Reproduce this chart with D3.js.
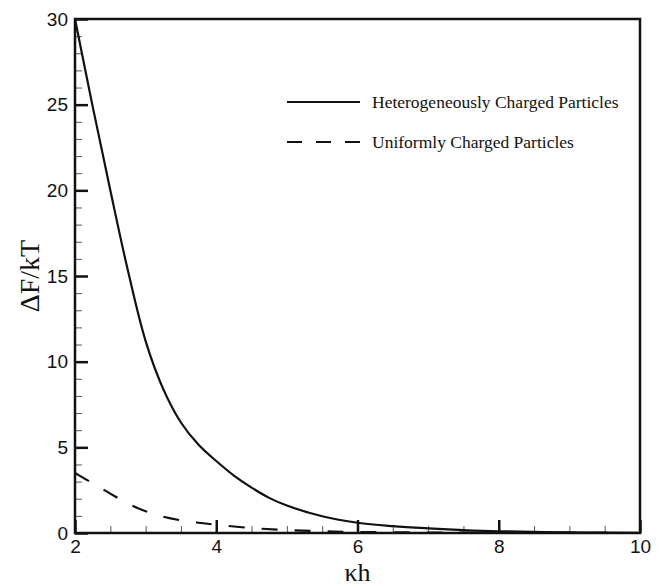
<!DOCTYPE html>
<html>
<head>
<meta charset="utf-8">
<script src="https://cdn.jsdelivr.net/npm/d3@7"></script>
<style>
  body { margin: 0; background: #fff; }
  svg { display: block; }
</style>
</head>
<body>
<div id="chart"></div>
<script>
// kh values and free energy (Delta F / kT)
const khHetero = [2.0, 2.25, 2.5, 2.75, 3.0, 3.25, 3.5, 3.75, 4.0, 4.25, 4.5, 4.75, 5.0, 5.5, 6.0, 6.5, 7.0, 7.5, 8.0, 9.0, 10.0];
const dfHetero = [30, 24.9, 20.0, 15.3, 11.2, 8.4, 6.45, 5.15, 4.2, 3.35, 2.65, 2.05, 1.6, 0.98, 0.6, 0.4, 0.27, 0.17, 0.1, 0.04, 0.01];

const khUniform = [2.0, 2.25, 2.5, 2.75, 3.0, 3.25, 3.5, 3.75, 4.0, 4.5, 5.0, 5.5, 6.0, 7.0, 8.0, 9.0, 10.0];
const dfUniform = [3.5, 2.9, 2.3, 1.72, 1.27, 0.95, 0.74, 0.6, 0.48, 0.29, 0.17, 0.1, 0.06, 0.03, 0.01, 0.005, 0.0];

const xMajorTicks = [2, 4, 6, 8, 10];
const yMajorTicks = [0, 5, 10, 15, 20, 25, 30];

const legendLabels = ["Heterogeneously Charged Particles", "Uniformly Charged Particles"];

const width = 666, height = 588;
const margin = {left: 75, right: 26, top: 19, bottom: 55};

const svg = d3.select("#chart").append("svg")
    .attr("width", width)
    .attr("height", height);

const xScale = d3.scaleLinear()
    .domain([2, 10])
    .range([margin.left, width - margin.right]);

const yScale = d3.scaleLinear()
    .domain([0, 30])
    .range([height - margin.bottom, margin.top]);

// minor ticks
svg.append("g")
    .attr("transform", "translate(0," + yScale(0) + ")")
    .call(d3.axisBottom(xScale).tickValues(d3.range(2, 10.01, 0.5)).tickSize(-7).tickFormat(""))
    .call(g => g.select(".domain").remove())
    .call(g => g.selectAll("line").attr("stroke", "#555").attr("stroke-width", 1));

svg.append("g")
    .attr("transform", "translate(" + xScale(2) + ",0)")
    .call(d3.axisLeft(yScale).tickValues(d3.range(0, 30.01, 1)).tickSize(-7).tickFormat(""))
    .call(g => g.select(".domain").remove())
    .call(g => g.selectAll("line").attr("stroke", "#555").attr("stroke-width", 1));

// major ticks and labels
svg.append("g")
    .attr("transform", "translate(0," + yScale(0) + ")")
    .call(d3.axisBottom(xScale).tickValues(xMajorTicks).tickSize(-13).tickPadding(7).tickFormat(d3.format("d")))
    .call(g => g.select(".domain").remove())
    .call(g => g.selectAll("line").attr("stroke", "#111").attr("stroke-width", 2.5))
    .call(g => g.selectAll("text")
        .attr("font-family", "'Liberation Sans', Arial, sans-serif")
        .attr("font-size", 19)
        .attr("fill", "#111"));

svg.append("g")
    .attr("transform", "translate(" + xScale(2) + ",0)")
    .call(d3.axisLeft(yScale).tickValues(yMajorTicks).tickSize(-13).tickPadding(7).tickFormat(d3.format("d")))
    .call(g => g.select(".domain").remove())
    .call(g => g.selectAll("line").attr("stroke", "#111").attr("stroke-width", 2.5))
    .call(g => g.selectAll("text")
        .attr("font-family", "'Liberation Sans', Arial, sans-serif")
        .attr("font-size", 19)
        .attr("fill", "#111"));

// frame
svg.append("rect")
    .attr("x", xScale(2))
    .attr("y", yScale(30))
    .attr("width", xScale(10) - xScale(2))
    .attr("height", yScale(0) - yScale(30))
    .attr("fill", "none")
    .attr("stroke", "#111")
    .attr("stroke-width", 2.5);

// curves
const line = d3.line()
    .curve(d3.curveCatmullRom.alpha(0.5))
    .x(d => xScale(d[0]))
    .y(d => yScale(d[1]));

svg.append("path")
    .datum(d3.zip(khHetero, dfHetero))
    .attr("d", line)
    .attr("fill", "none")
    .attr("stroke", "#111")
    .attr("stroke-width", 2.2);

svg.append("path")
    .datum(d3.zip(khUniform, dfUniform))
    .attr("d", line)
    .attr("fill", "none")
    .attr("stroke", "#111")
    .attr("stroke-width", 2.2)
    .attr("stroke-dasharray", "16,17");

// legend
const legend = svg.append("g");
legendLabels.forEach((label, i) => {
    let y = 102 + i * 40;
    legend.append("line")
        .attr("x1", 287).attr("x2", 360)
        .attr("y1", y).attr("y2", y)
        .attr("stroke", "#111")
        .attr("stroke-width", 2.2)
        .attr("stroke-dasharray", i == 1 ? "15,14" : null);
    legend.append("text")
        .attr("x", 372)
        .attr("y", y + 6)
        .attr("font-family", "'Liberation Serif', 'Times New Roman', serif")
        .attr("font-size", 17.5)
        .attr("fill", "#111")
        .text(label);
});

// axis titles
svg.append("text")
    .attr("x", xScale(6))
    .attr("y", 581)
    .attr("text-anchor", "middle")
    .attr("font-family", "'Liberation Serif', 'Times New Roman', serif")
    .attr("font-size", 26)
    .attr("fill", "#111")
    .text("κh");

svg.append("text")
    .attr("transform", "translate(39," + yScale(15) + ") rotate(-90)")
    .attr("text-anchor", "middle")
    .attr("font-family", "'Liberation Serif', 'Times New Roman', serif")
    .attr("font-size", 28)
    .attr("fill", "#111")
    .text("ΔF/kT");
</script>
</body>
</html>
